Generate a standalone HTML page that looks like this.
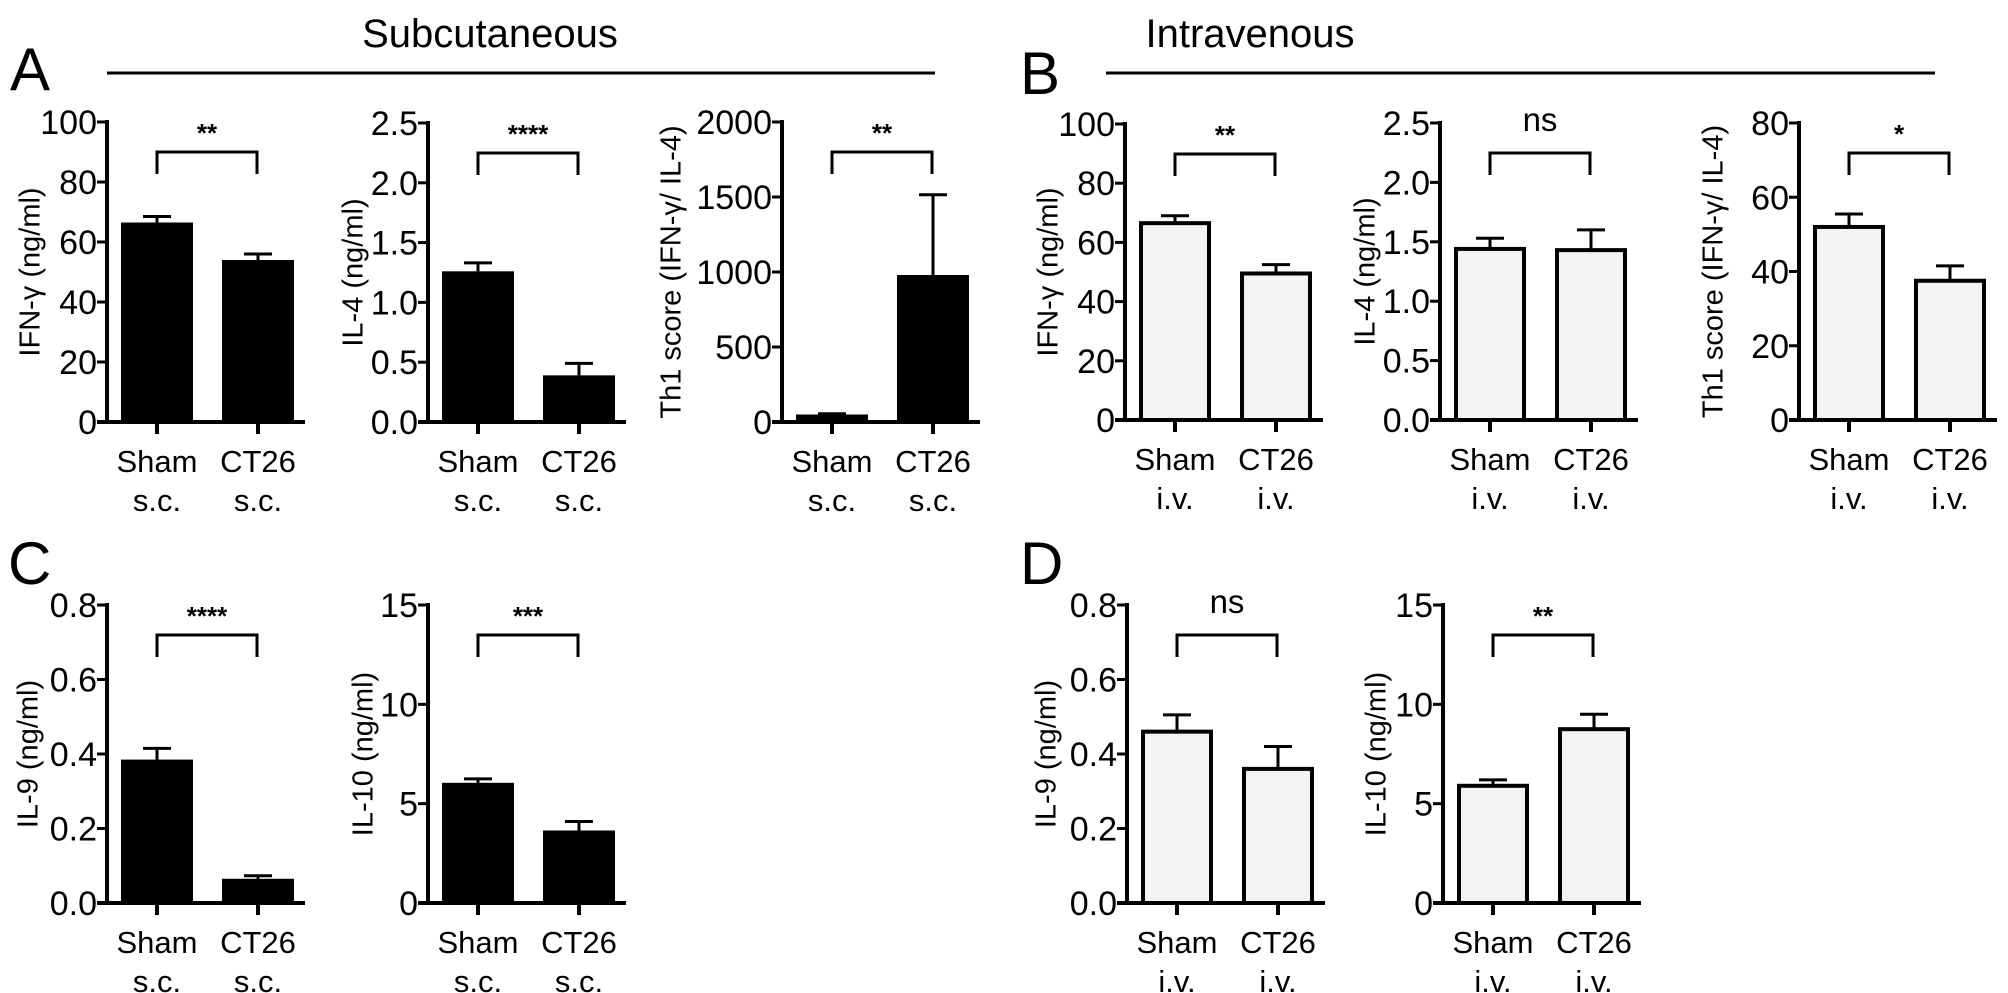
<!DOCTYPE html>
<html><head><meta charset="utf-8"><style>
html,body{margin:0;padding:0;background:#fff}
svg{display:block;font-family:"Liberation Sans",Arial,sans-serif}
</style></head><body>
<svg id="fig" width="2008" height="993" viewBox="0 0 2008 993">
<text x="490" y="47" font-size="40" text-anchor="middle">Subcutaneous</text>
<line x1="107" y1="73" x2="935" y2="73" stroke="#000" stroke-width="3"/>
<text x="1250" y="47" font-size="40" text-anchor="middle">Intravenous</text>
<line x1="1106" y1="73" x2="1935" y2="73" stroke="#000" stroke-width="3"/>
<text x="10" y="90" font-size="60">A</text>
<text x="1020" y="94" font-size="60">B</text>
<text x="8" y="584" font-size="60">C</text>
<text x="1020" y="584" font-size="60">D</text>
</svg>
<script>
// data arrays
const categories = ["Sham", "CT26"];
const a1Values = [66.5, 54]; const a1Err = [68.5, 56];
const a2Values = [1.26, 0.39]; const a2Err = [1.33, 0.49];
const a3Values = [50, 980]; const a3Err = [55, 1515];
const b1Values = [66.5, 49.5]; const b1Err = [69, 52.5];
const b2Values = [1.44, 1.43]; const b2Err = [1.53, 1.6];
const b3Values = [52, 37.5]; const b3Err = [55.5, 41.5];
const c1Values = [0.385, 0.065]; const c1Err = [0.415, 0.073];
const c2Values = [6.05, 3.65]; const c2Err = [6.25, 4.1];
const d1Values = [0.46, 0.36]; const d1Err = [0.505, 0.42];
const d2Values = [5.9, 8.75]; const d2Err = [6.2, 9.5];
const ticksA1 = ["0","20","40","60","80","100"];
const ticksIL4 = ["0.0","0.5","1.0","1.5","2.0","2.5"];
const ticksA3 = ["0","500","1000","1500","2000"];
const ticksB3 = ["0","20","40","60","80"];
const ticksIL9 = ["0.0","0.2","0.4","0.6","0.8"];
const ticksIL10 = ["0","5","10","15"];

const charts = [
 {id:"a1",ax:107,zero:422,top:122,max:100,ticks:ticksA1,vals:a1Values,err:a1Err,fill:true,sig:"**",yl:"IFN-γ (ng/ml)",ylx:32,sub:"s.c."},
 {id:"a2",ax:428,zero:422,top:123,max:2.5,ticks:ticksIL4,vals:a2Values,err:a2Err,fill:true,sig:"****",yl:"IL-4 (ng/ml)",ylx:355,sub:"s.c."},
 {id:"a3",ax:782,zero:422,top:122,max:2000,ticks:ticksA3,vals:a3Values,err:a3Err,fill:true,sig:"**",yl:"Th1 score (IFN-γ/ IL-4)",ylx:673,sub:"s.c."},
 {id:"b1",ax:1125,zero:420,top:124,max:100,ticks:ticksA1,vals:b1Values,err:b1Err,fill:false,sig:"**",yl:"IFN-γ (ng/ml)",ylx:1050,sub:"i.v."},
 {id:"b2",ax:1440,zero:420,top:123,max:2.5,ticks:ticksIL4,vals:b2Values,err:b2Err,fill:false,sig:"ns",yl:"IL-4 (ng/ml)",ylx:1367,sub:"i.v."},
 {id:"b3",ax:1799,zero:420,top:123,max:80,ticks:ticksB3,vals:b3Values,err:b3Err,fill:false,sig:"*",yl:"Th1 score (IFN-γ/ IL-4)",ylx:1715,sub:"i.v."},
 {id:"c1",ax:107,zero:903,top:605,max:0.8,ticks:ticksIL9,vals:c1Values,err:c1Err,fill:true,sig:"****",yl:"IL-9 (ng/ml)",ylx:30,sub:"s.c."},
 {id:"c2",ax:428,zero:903,top:605,max:15,ticks:ticksIL10,vals:c2Values,err:c2Err,fill:true,sig:"***",yl:"IL-10 (ng/ml)",ylx:365,sub:"s.c."},
 {id:"d1",ax:1127,zero:903,top:605,max:0.8,ticks:ticksIL9,vals:d1Values,err:d1Err,fill:false,sig:"ns",yl:"IL-9 (ng/ml)",ylx:1048,sub:"i.v."},
 {id:"d2",ax:1443,zero:903,top:605,max:15,ticks:ticksIL10,vals:d2Values,err:d2Err,fill:false,sig:"**",yl:"IL-10 (ng/ml)",ylx:1378,sub:"i.v."}
];
const NS="http://www.w3.org/2000/svg";
const svg=document.getElementById("fig");
function mk(parent,tag,attrs,text){const e=document.createElementNS(NS,tag);for(const k in attrs)e.setAttribute(k,attrs[k]);if(text!==undefined)e.textContent=text;parent.appendChild(e);return e;}
charts.forEach(c=>{
 const g=mk(svg,"g",{});
 
 
 const y=v=>c.zero-(v/c.max)*(c.zero-c.top);
 const n=c.ticks.length;
 c.vals.forEach((v,i)=>{
  const left=c.ax+14+i*101, w=72, cx=left+w/2;
  const ey=y(c.err[i]);
  const eb=mk(g,"line",{x1:cx,y1:y(v),x2:cx,y2:ey,stroke:"#000","stroke-width":3});
  
  
  const cap=mk(g,"line",{x1:cx-14,y1:ey,x2:cx+14,y2:ey,stroke:"#000","stroke-width":3});
  
  
  let r;
  if(c.fill){r=mk(g,"rect",{x:left,y:y(v),width:w,height:c.zero-y(v),fill:"#000"});}
  else{r=mk(g,"rect",{x:left+2,y:y(v),width:w-4,height:c.zero-y(v),fill:"#f3f3f3",stroke:"#000","stroke-width":4});}
  
  
  mk(g,"line",{x1:cx,y1:c.zero,x2:cx,y2:c.zero+12,stroke:"#000","stroke-width":4});
  const t1=mk(g,"text",{x:cx,y:c.zero+50,"font-size":31,"text-anchor":"middle"},categories[i]);
  
  
  const t2=mk(g,"text",{x:cx,y:c.zero+89,"font-size":31,"text-anchor":"middle"},c.sub);
  
  
 });
 const ya=mk(g,"line",{x1:c.ax,y1:c.top-2,x2:c.ax,y2:c.zero+2,stroke:"#000","stroke-width":4});
 
 
 const xa=mk(g,"line",{x1:c.ax-10,y1:c.zero,x2:c.ax+198,y2:c.zero,stroke:"#000","stroke-width":4});
 
 
 c.ticks.forEach((t,i)=>{
  const ty=c.zero-i*(c.zero-c.top)/(n-1);
  mk(g,"line",{x1:c.ax-10,y1:ty,x2:c.ax,y2:ty,stroke:"#000","stroke-width":3});
  const tl=mk(g,"text",{x:c.ax-10,y:ty+12,"font-size":34,"text-anchor":"end"},t);
  
  
 });
 const yl=mk(g,"text",{x:c.ylx,y:(c.top+c.zero)/2,"font-size":29,"text-anchor":"middle",transform:`rotate(-90 ${c.ylx} ${(c.top+c.zero)/2})`,"dominant-baseline":"middle"},c.yl);
 
 
 const b1=c.ax+50, b2=c.ax+150, by=c.top+30;
 const br=mk(g,"path",{d:`M${b1} ${by+22}V${by}H${b2}V${by+22}`,fill:"none",stroke:"#000","stroke-width":3});
 
 
 const isNs=c.sig==="ns";
 const st=mk(g,"text",{x:(b1+b2)/2,y:isNs?by-22:by-10,"font-size":isNs?33:26,"font-weight":isNs?"normal":"bold","text-anchor":"middle"},c.sig);
 
 
});
</script>
</body></html>
